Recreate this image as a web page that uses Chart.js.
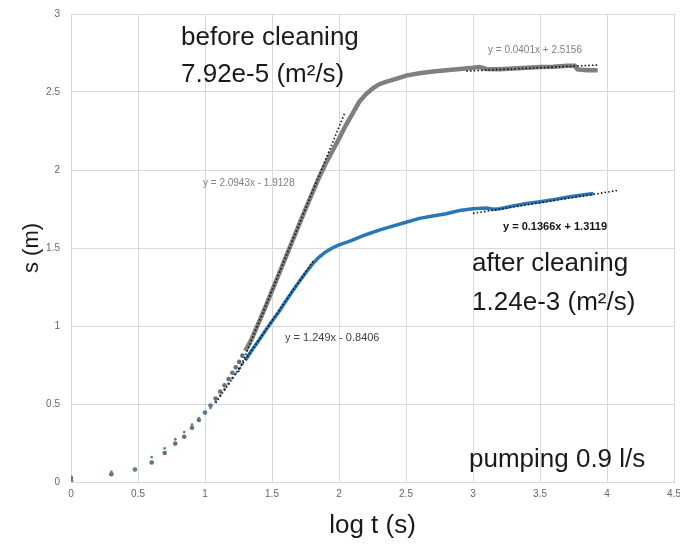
<!DOCTYPE html>
<html>
<head>
<meta charset="utf-8">
<script src="https://cdn.jsdelivr.net/npm/chart.js@4/dist/chart.umd.min.js"></script>
<style>
  body { margin: 0; background: #fff; }
  #wrap { width: 680px; height: 546px; }
</style>
</head>
<body>
<div id="wrap"><canvas id="drawdown" width="680" height="546"></canvas></div>
<script>
/* ============================================================
   DATA (x = log t, y = drawdown s)
============================================================ */
const beforeX = [0, 0, 0.301, 0.477, 0.602, 0.699, 0.778, 0.845, 0.903, 0.954,
  1.0, 1.041, 1.079, 1.114, 1.146, 1.176, 1.204, 1.230, 1.255, 1.279,
  1.301, 1.35, 1.40, 1.45, 1.50, 1.55, 1.60, 1.65, 1.70, 1.75,
  1.80, 1.85, 1.90, 1.95, 2.00, 2.05, 2.10, 2.15, 2.20, 2.25,
  2.30, 2.35, 2.40, 2.45, 2.50, 2.60, 2.70, 2.80, 2.90, 3.00,
  3.05, 3.10, 3.20, 3.30, 3.40, 3.50, 3.60, 3.70, 3.76, 3.78,
  3.85, 3.93];
const beforeY = [0.005, 0.025, 0.05, 0.08, 0.125, 0.186, 0.246, 0.29, 0.348, 0.397,
  0.445, 0.49, 0.535, 0.58, 0.62, 0.66, 0.70, 0.735, 0.77, 0.81,
  0.84, 0.92, 1.02, 1.12, 1.225, 1.33, 1.435, 1.54, 1.645, 1.75,
  1.85, 1.95, 2.04, 2.12, 2.20, 2.285, 2.36, 2.435, 2.485, 2.522,
  2.55, 2.565, 2.578, 2.59, 2.605, 2.62, 2.632, 2.64, 2.647, 2.655,
  2.66, 2.648, 2.646, 2.65, 2.655, 2.66, 2.662, 2.668, 2.668, 2.645,
  2.64, 2.64];

const afterX = [0, 0, 0.301, 0.477, 0.602, 0.699, 0.778, 0.845, 0.903, 0.954,
  1.0, 1.041, 1.079, 1.114, 1.146, 1.176, 1.204, 1.230, 1.255, 1.279,
  1.301, 1.35, 1.40, 1.45, 1.50, 1.55, 1.60, 1.65, 1.70, 1.75,
  1.80, 1.85, 1.90, 1.95, 2.00, 2.05, 2.10, 2.20, 2.30, 2.40,
  2.50, 2.60, 2.70, 2.80, 2.90, 3.00, 3.10, 3.15, 3.20, 3.30,
  3.40, 3.50, 3.60, 3.70, 3.80, 3.90];
const afterY = [0.01, 0.035, 0.064, 0.082, 0.16, 0.216, 0.274, 0.32, 0.368, 0.41,
  0.447, 0.475, 0.515, 0.555, 0.595, 0.63, 0.665, 0.695, 0.725, 0.755,
  0.78, 0.845, 0.905, 0.97, 1.03, 1.09, 1.155, 1.22, 1.28, 1.34,
  1.395, 1.44, 1.475, 1.50, 1.52, 1.535, 1.55, 1.585, 1.615, 1.64,
  1.665, 1.69, 1.705, 1.72, 1.74, 1.752, 1.756, 1.748, 1.752, 1.77,
  1.785, 1.797, 1.81, 1.825, 1.838, 1.85];

// linear trendlines, end points [x, y]
const trendBeforeSteep = [[1.25, 0.705], [2.045, 2.370]];
const trendBeforeLate = [[2.95, 2.634], [3.93, 2.673]];
const trendAfterSteep = [[1.08, 0.508], [1.81, 1.420]];
const trendAfterLate = [[3.0, 1.722], [4.08, 1.869]];

const xTickLabels = ["0", "0.5", "1", "1.5", "2", "2.5", "3", "3.5", "4", "4.5"];
const yTickLabels = ["0", "0.5", "1", "1.5", "2", "2.5", "3"];

/* ============================================================
   CHART
============================================================ */
const FONT = "'Liberation Sans', Arial, sans-serif";
const DOT_LIMIT = 1.3;   // below this log t the samples show as single dots
const GREY = "#7f7f7f";
const BLUE = "#2a77b6";

const toPoints = (xs, ys) => xs.map((x, i) => ({ x: x, y: ys[i] }));
const trendPoints = pts => pts.map(p => ({ x: p[0], y: p[1] }));

function seriesDataset(xs, ys, color, dotColor, dotRadius, width, order) {
    return {
        data: toPoints(xs, ys),
        showLine: true,
        borderColor: color,
        borderWidth: width,
        backgroundColor: dotColor,
        pointBorderWidth: 0,
        pointRadius: ctx => xs[ctx.dataIndex] < DOT_LIMIT ? dotRadius : 0,
        segment: {
            borderColor: ctx => xs[ctx.p0DataIndex] < DOT_LIMIT ? "rgba(0,0,0,0)" : color
        },
        order: order
    };
}

function trendDataset(pts) {
    return {
        data: trendPoints(pts),
        showLine: true,
        borderColor: "#111",
        borderWidth: 1.6,
        borderDash: [1.5, 2.2],
        pointRadius: 0,
        order: 0
    };
}

// text written on the plot area, anchored at data coordinates
const notesPlugin = {
    id: "notes",
    afterDatasetsDraw(chart) {
        const { ctx, scales: { x, y } } = chart;
        const notes = [
            { t: "before cleaning", x: 0.821, y: 2.801, f: "26px " + FONT, c: "#1a1a1a", b: "alphabetic" },
            { t: "7.92e-5 (m²/s)", x: 0.821, y: 2.564, f: "26px " + FONT, c: "#1a1a1a", b: "alphabetic" },
            { t: "after cleaning", x: 2.993, y: 1.353, f: "26px " + FONT, c: "#1a1a1a", b: "alphabetic" },
            { t: "1.24e-3 (m²/s)", x: 2.993, y: 1.103, f: "26px " + FONT, c: "#1a1a1a", b: "alphabetic" },
            { t: "pumping 0.9 l/s", x: 2.970, y: 0.096, f: "26px " + FONT, c: "#1a1a1a", b: "alphabetic" },
            { t: "y = 0.0401x + 2.5156", x: 3.112, y: 2.769, f: "10px " + FONT, c: "#7f7f7f", b: "middle" },
            { t: "y = 2.0943x - 1.9128", x: 0.985, y: 1.917, f: "10px " + FONT, c: "#7f7f7f", b: "middle" },
            { t: "y = 1.249x - 0.8406", x: 1.597, y: 0.923, f: "11px " + FONT, c: "#404040", b: "middle" },
            { t: "y = 0.1366x + 1.3119", x: 3.224, y: 1.635, f: "bold 11px " + FONT, c: "#111", b: "middle" }
        ];
        ctx.save();
        ctx.textAlign = "left";
        notes.forEach(n => {
            ctx.font = n.f;
            ctx.fillStyle = n.c;
            ctx.textBaseline = n.b;
            ctx.fillText(n.t, x.getPixelForValue(n.x), y.getPixelForValue(n.y));
        });
        ctx.restore();
    }
};

new Chart(document.getElementById("drawdown"), {
    type: "scatter",
    data: {
        datasets: [
            trendDataset(trendBeforeSteep),
            trendDataset(trendBeforeLate),
            trendDataset(trendAfterSteep),
            trendDataset(trendAfterLate),
            seriesDataset(afterX, afterY, BLUE, "#3f8bbd", 1.4, 3.5, 1),
            seriesDataset(beforeX, beforeY, GREY, "#6f6f6f", 2.3, 4.5, 2)
        ]
    },
    options: {
        responsive: false,
        animation: false,
        events: [],
        layout: { padding: { top: 14, right: 6, left: 0, bottom: 0 } },
        plugins: {
            legend: { display: false },
            tooltip: { enabled: false }
        },
        scales: {
            x: {
                type: "linear",
                min: 0,
                max: 4.5,
                ticks: {
                    stepSize: 0.5,
                    padding: 6,
                    color: "#666",
                    font: { size: 10, family: FONT },
                    callback: (v, i) => xTickLabels[i]
                },
                grid: { color: "#d9d9d9", drawTicks: false },
                border: { color: "#d9d9d9" },
                title: {
                    display: true,
                    text: "log t (s)",
                    color: "#1a1a1a",
                    font: { size: 26, family: FONT },
                    padding: { top: 0, bottom: 5 }
                },
                afterFit: scale => {
                    scale.height = 64;
                    scale.paddingLeft = 0;
                    scale.paddingRight = 0;
                }
            },
            y: {
                type: "linear",
                min: 0,
                max: 3,
                ticks: {
                    stepSize: 0.5,
                    padding: 11,
                    color: "#666",
                    font: { size: 10, family: FONT },
                    callback: (v, i) => yTickLabels[i]
                },
                grid: { color: "#d9d9d9", drawTicks: false },
                border: { color: "#d9d9d9" },
                title: {
                    display: true,
                    text: "s (m)",
                    color: "#1a1a1a",
                    font: { size: 22, family: FONT },
                    padding: { top: 19, bottom: 0 }
                },
                afterFit: scale => {
                    scale.width = 71;
                    scale.paddingTop = 0;
                    scale.paddingBottom = 0;
                }
            }
        }
    },
    plugins: [notesPlugin]
});
</script>
</body>
</html>
